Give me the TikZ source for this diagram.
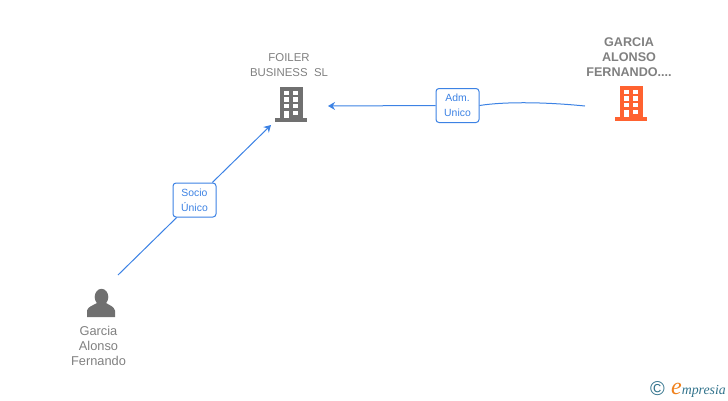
\documentclass[tikz,border=0pt]{standalone}
\usepackage{fontspec}
\setmainfont{Liberation Sans}
\newfontfamily\logofont{Liberation Serif}
\usetikzlibrary{arrows.meta, positioning}
\definecolor{linkblue}{RGB}{60, 130, 228}
\definecolor{labelgray}{RGB}{128, 128, 128}
\definecolor{icongray}{RGB}{112, 112, 112}
\definecolor{firmorange}{RGB}{255, 98, 48}
\definecolor{logoteal}{RGB}{50, 115, 140}
\definecolor{logoorange}{RGB}{240, 130, 30}
\tikzset{
  iconbox/.style={minimum width=#1, inner sep=0pt, outer sep=0pt},
  namelabel/.style={font=\fontsize{11.4}{15}\selectfont, labelgray, align=center, inner sep=0pt},
  badge/.style={draw=linkblue, line width=1pt, rounded corners=3pt, fill=white, text=linkblue,
    font=\fontsize{10.4}{15}\selectfont, align=center, inner sep=0pt, minimum width=43pt, minimum height=34pt},
  link/.style={linkblue, line width=1pt},
  building/.pic={
    \fill[pic actions] (-11.5,-17.5) rectangle (11.5,14);
    \fill[pic actions] (-16,14) rectangle (16,17.5);
    \foreach \wy in {-13.5,-7,-0.2} {
      \fill[white] (-7,\wy) rectangle (-1.8,\wy+4.6);
      \fill[white] (2.2,\wy) rectangle (7.4,\wy+4.6);
    }
    \fill[white] (-7,6.6) rectangle (-1.8,14);
    \fill[white] (2.2,6.6) rectangle (7.4,11.2);
  }
}

\begin{document}
\begin{tikzpicture}[x=1pt, y=-1pt]
\useasboundingbox (0,0) rectangle (728,400);

% Icons
\pic[icongray] at (291,104) {building};
\pic[firmorange] at (631,103) {building};
\fill[icongray] (101.5,297) ellipse (6.8 and 8.2);
\fill[icongray] (87,317) -- (87,310.5) .. controls (88,306.5) and (93,305.5) .. (97,303)
  -- (106,303) .. controls (110,305.5) and (114,306.5) .. (115,310.5) -- (115,317) -- cycle;

% Invisible boxes round the icons
\node[iconbox=40pt, minimum height=42pt] (foiler) at (291,104) {};
\node[iconbox=34pt, minimum height=56pt] (persona) at (101,303) {};
\coordinate (foilerin) at (328,106);
\coordinate (garciaout) at (585,106);

% Names
\node[namelabel] (foilername) at (289,65.5) {FOILER\\BUSINESS\ \ SL};
\node[namelabel, font=\fontsize{12.6}{15}\selectfont\bfseries] (garcianame) at (629,57) {GARCIA\\ALONSO\\FERNANDO....};
\node[namelabel, font=\fontsize{12.8}{15}\selectfont] (personaname) at (98.5,346) {Garcia\\Alonso\\Fernando};

% Badges
\node[badge] (socio) at (194.5,200) {Socio\\Único};
\node[badge] (adm) at (457.5,105.5) {Adm.\\Unico};

% Connectors
\draw[link] (persona.north east) -- (socio);
\draw[link, -{Stealth[length=7pt, width=8pt]}] (socio) -- (foiler.south west);
\draw[link] (garciaout) .. controls (545,102) and (505,101.5) .. (adm.east);
\draw[link, -{Stealth[length=7pt, width=8pt]}] (adm.west) -- (foilerin);

% Logo
\node[text=logoteal, font=\fontsize{20}{20}\selectfont, inner sep=0pt] (copyr) at (657.5,389) {©};
\node[anchor=base west, inner sep=0pt, font=\logofont\itshape\fontsize{13.8}{14}\selectfont, text=logoteal] (logo) at (671,394)
  {\textcolor{logoorange}{\fontsize{24}{24}\selectfont e}mpresia};
\end{tikzpicture}
\end{document}
